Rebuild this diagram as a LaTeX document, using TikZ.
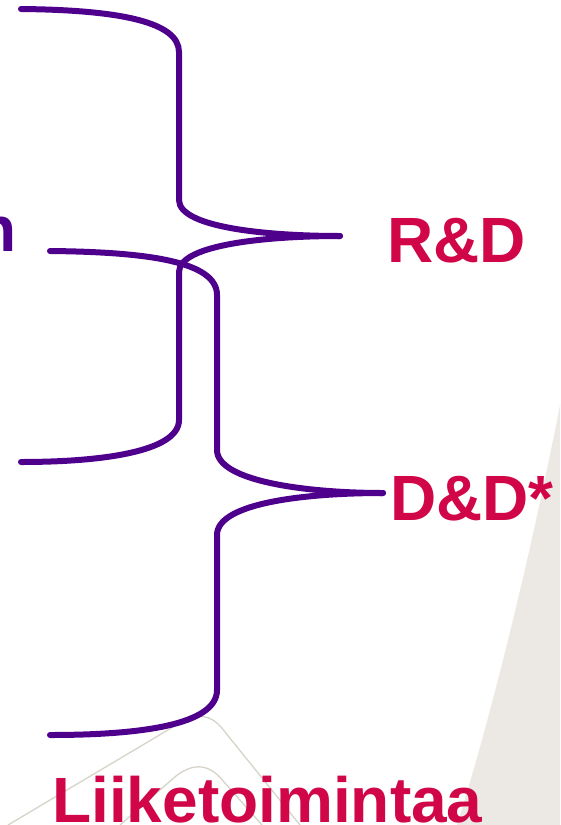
\documentclass[tikz,border=0pt]{standalone}
\usepackage{fontspec}
\setmainfont{Liberation Sans}
\usetikzlibrary{positioning}
\definecolor{bracecol}{RGB}{78,0,140}
\definecolor{redtext}{RGB}{208,6,72}
\definecolor{paper}{RGB}{236,233,228}
\definecolor{faint}{RGB}{214,211,200}
\tikzset{
        brace/.style={draw=bracecol, line width=6pt, line cap=round, line join=round}, % the purple braces
        lbl/.style={text=redtext, font=\fontsize{64}{70}\selectfont\bfseries, inner sep=0pt, anchor=base west}, % the red words
        deco/.style={draw=faint, line width=1.3pt}, % faint lines in the background
}

\begin{document}
\begin{tikzpicture}[x=1pt,y=-1pt]
\useasboundingbox (0,0) rectangle (560,825);
\clip (0,0) rectangle (560,825);
% background
\fill[paper] (562,395) .. controls (530,560) and (490,720) .. (457,825) -- (560,825) -- cycle;
\draw[deco] (8,825) -- (178,724) .. controls (198,712) and (212,714) .. (225,732) -- (300,825);
\draw[deco] (120,825) -- (176,776) .. controls (194,762) and (210,764) .. (224,782) -- (262,825);
% words
\node[lbl] (rd) at (387,262) {R\&D};
\node[lbl] (dd) at (390,520) {D\&D*};
\node[lbl] (liike) at (52,822) {Liiketoimintaa};
\node[lbl, text=bracecol, anchor=base east] (nfrag) at (17,251) {n};
% braces
\coordinate (rdtip) at (340,236);
\coordinate (ddtip) at (383,493);
\draw[brace] (21,9) .. controls (120,10) and (179,22) .. (179,52) -- (179,200) .. controls (179,228) and (270,236) .. (rdtip);
\draw[brace] (rdtip) .. controls (270,236) and (179,244) .. (179,272) -- (179,420) .. controls (179,452) and (100,462) .. (21,462);
\draw[brace] (50,251) .. controls (150,252) and (217,262) .. (217,295) -- (217,450) .. controls (217,482) and (310,493) .. (ddtip);
\draw[brace] (ddtip) .. controls (310,493) and (217,502) .. (217,535) -- (217,690) .. controls (217,725) and (140,735) .. (50,735);
\end{tikzpicture}
\end{document}
